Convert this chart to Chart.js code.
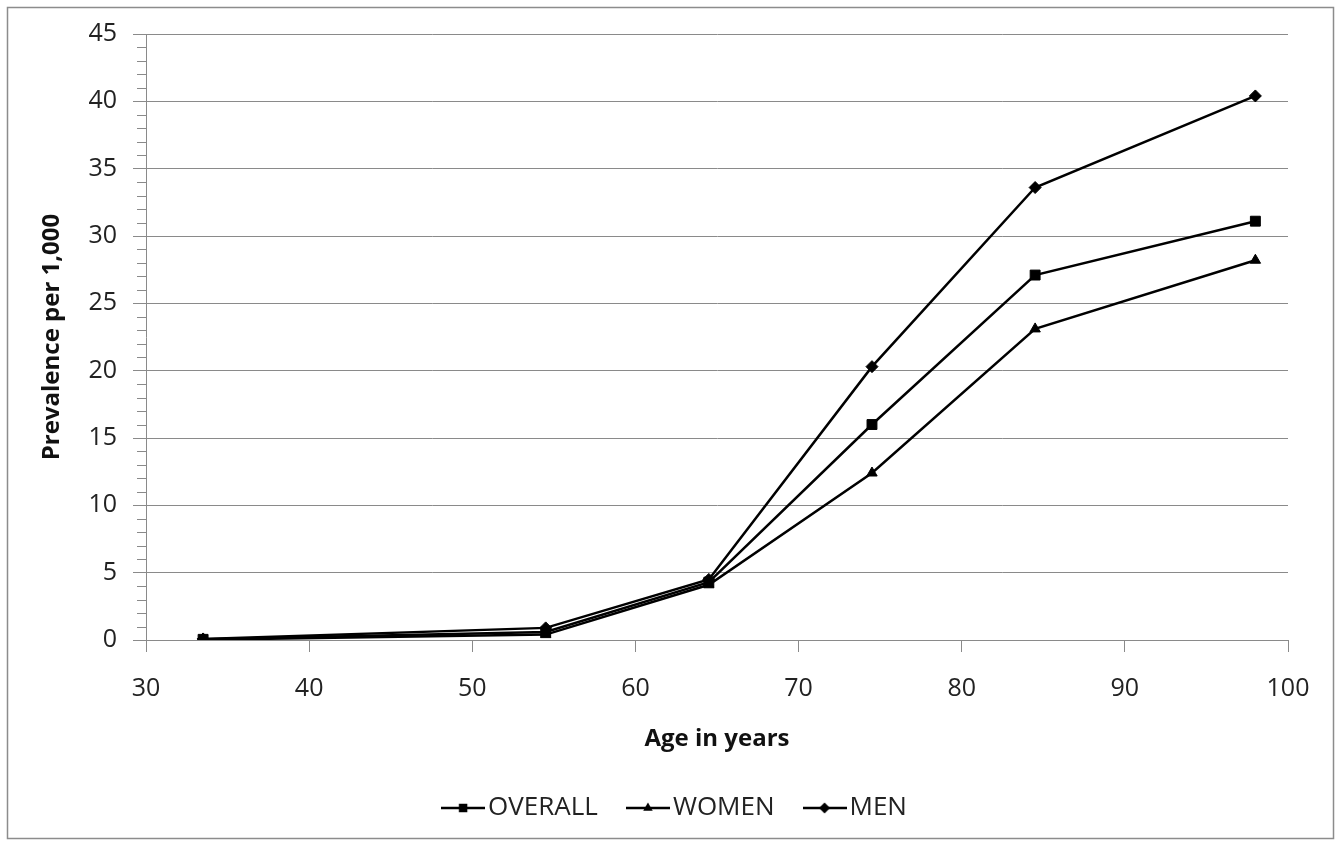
<!DOCTYPE html>
<html>
<head>
<meta charset="utf-8">
<script src="https://cdn.jsdelivr.net/npm/chart.js@4.4.1/dist/chart.umd.min.js"></script>
<style>
  html, body { margin: 0; padding: 0; background: #fff; }
  #c { display: block; }
</style>
</head>
<body>
<canvas id="c" width="1339" height="844"></canvas>
<script>
// ---- data ----
const ages = [33.5, 54.5, 64.5, 74.5, 84.5, 98];
const overall = [0.05, 0.6, 4.3, 16.0, 27.1, 31.1];
const women = [0.02, 0.4, 4.1, 12.4, 23.1, 28.2];
const men = [0.08, 0.9, 4.5, 20.3, 33.6, 40.4];
const seriesNames = ['OVERALL', 'WOMEN', 'MEN'];
const xMin = 30, xMax = 100, xStep = 10;
const yMin = 0, yMax = 45, yStep = 5, yMinorStep = 1;

const FONT = '"Open Sans", "Noto Sans", sans-serif';
const GRID = '#8a8a8a';

function toPoints(xs, ys) { return xs.map((x, i) => ({ x: x, y: ys[i] })); }

function drawMarker(ctx, style, x, y, r) {
  ctx.beginPath();
  if (style === 'rect') {
    const s = r * Math.SQRT1_2;
    ctx.rect(x - s, y - s, 2 * s, 2 * s);
  } else if (style === 'triangle') {
    for (let k = 0; k < 3; k++) {
      const a = k * 2 * Math.PI / 3;
      const px = x + Math.sin(a) * r, py = y - Math.cos(a) * r;
      if (k === 0) ctx.moveTo(px, py); else ctx.lineTo(px, py);
    }
    ctx.closePath();
  } else {
    ctx.moveTo(x - r, y); ctx.lineTo(x, y - r); ctx.lineTo(x + r, y); ctx.lineTo(x, y + r);
    ctx.closePath();
  }
  ctx.fill();
}

function legendIcon(style, r) {
  const c = document.createElement('canvas');
  c.width = 44; c.height = 16;
  const ctx = c.getContext('2d');
  ctx.strokeStyle = '#000'; ctx.fillStyle = '#000'; ctx.lineWidth = 2.5;
  ctx.beginPath(); ctx.moveTo(0, 8); ctx.lineTo(44, 8); ctx.stroke();
  drawMarker(ctx, style, 22, 8, r);
  return c;
}

const styles = ['rect', 'triangle', 'rectRot'];
const radii = [7, 6, 6];
const legendRadii = [6, 5.5, 5.5];
const icons = styles.map((s, i) => legendIcon(s, legendRadii[i]));

function ds(label, data, i) {
  return {
    label: label,
    data: toPoints(ages, data),
    borderColor: '#000',
    backgroundColor: '#000',
    borderWidth: 2.5,
    pointStyle: styles[i],
    pointRadius: radii[i],
    pointHoverRadius: radii[i],
    pointBackgroundColor: '#000',
    pointBorderColor: '#000',
    pointBorderWidth: 1,
    tension: 0,
    fill: false
  };
}

const frame = {
  id: 'frame',
  beforeDraw(chart) {
    const ctx = chart.ctx;
    ctx.save();
    ctx.fillStyle = '#fff';
    ctx.fillRect(0, 0, chart.width, chart.height);
    ctx.strokeStyle = '#8c8c8c';
    ctx.lineWidth = 1.5;
    ctx.strokeRect(7.5, 7.5, chart.width - 13, chart.height - 13);
    ctx.restore();
  }
};

const minorTicks = {
  id: 'minorTicks',
  afterDraw(chart) {
    const y = chart.scales.y;
    const ctx = chart.ctx;
    ctx.save();
    ctx.strokeStyle = GRID;
    ctx.lineWidth = 1;
    for (let v = yMin; v <= yMax; v += yMinorStep) {
      if (v % yStep === 0) continue;
      const py = Math.round(y.getPixelForValue(v)) + 0.5;
      ctx.beginPath();
      ctx.moveTo(y.right - 9, py);
      ctx.lineTo(y.right, py);
      ctx.stroke();
    }
    ctx.restore();
  }
};

new Chart(document.getElementById('c'), {
  type: 'line',
  data: {
    datasets: [ds(seriesNames[0], overall, 0), ds(seriesNames[1], women, 1), ds(seriesNames[2], men, 2)]
  },
  options: {
    responsive: false,
    animation: false,
    devicePixelRatio: 1,
    layout: { padding: { top: 34, left: 19, right: 0, bottom: 13 } },
    plugins: {
      tooltip: { enabled: false },
      legend: {
        position: 'bottom',
        labels: {
          usePointStyle: true,
          pointStyleWidth: 24,
          padding: 38,
          color: '#222',
          font: { family: FONT, size: 26 },
          generateLabels(chart) {
            return chart.data.datasets.map((d, i) => ({
              text: d.label,
              pointStyle: icons[i],
              fillStyle: '#000',
              strokeStyle: '#000',
              lineWidth: 0,
              hidden: false,
              datasetIndex: i,
              fontColor: '#222'
            }));
          }
        }
      }
    },
    scales: {
      x: {
        type: 'linear',
        min: xMin, max: xMax,
        afterFit(s) { s.height = 117; },
        ticks: { stepSize: xStep, padding: 22, color: '#222', font: { family: FONT, size: 25 } },
        grid: { drawOnChartArea: false, drawTicks: true, tickLength: 12, tickColor: GRID, color: GRID },
        border: { display: true, color: GRID, width: 1 },
        title: { display: true, text: 'Age in years', color: '#111', font: { family: FONT, size: 24, weight: 'bold' }, padding: { top: 0, bottom: 3 } }
      },
      y: {
        type: 'linear',
        position: 'left',
        min: yMin, max: yMax,
        afterFit(s) { s.width = 127; },
        ticks: { stepSize: yStep, padding: 16, color: '#222', font: { family: FONT, size: 25 } },
        grid: { color: GRID, lineWidth: 1, drawTicks: true, tickLength: 13, tickColor: GRID },
        border: { display: true, color: GRID, width: 1 },
        title: { display: true, text: 'Prevalence per 1,000', color: '#111', font: { family: FONT, size: 24, weight: 'bold' }, padding: { top: 19, bottom: 0 } }
      },
      spacer: {
        type: 'linear',
        position: 'right',
        display: true,
        afterFit(s) { s.width = 51; },
        ticks: { display: false },
        grid: { display: false, drawTicks: false },
        border: { display: false }
      }
    }
  },
  plugins: [frame, minorTicks]
});
</script>
</body>
</html>
